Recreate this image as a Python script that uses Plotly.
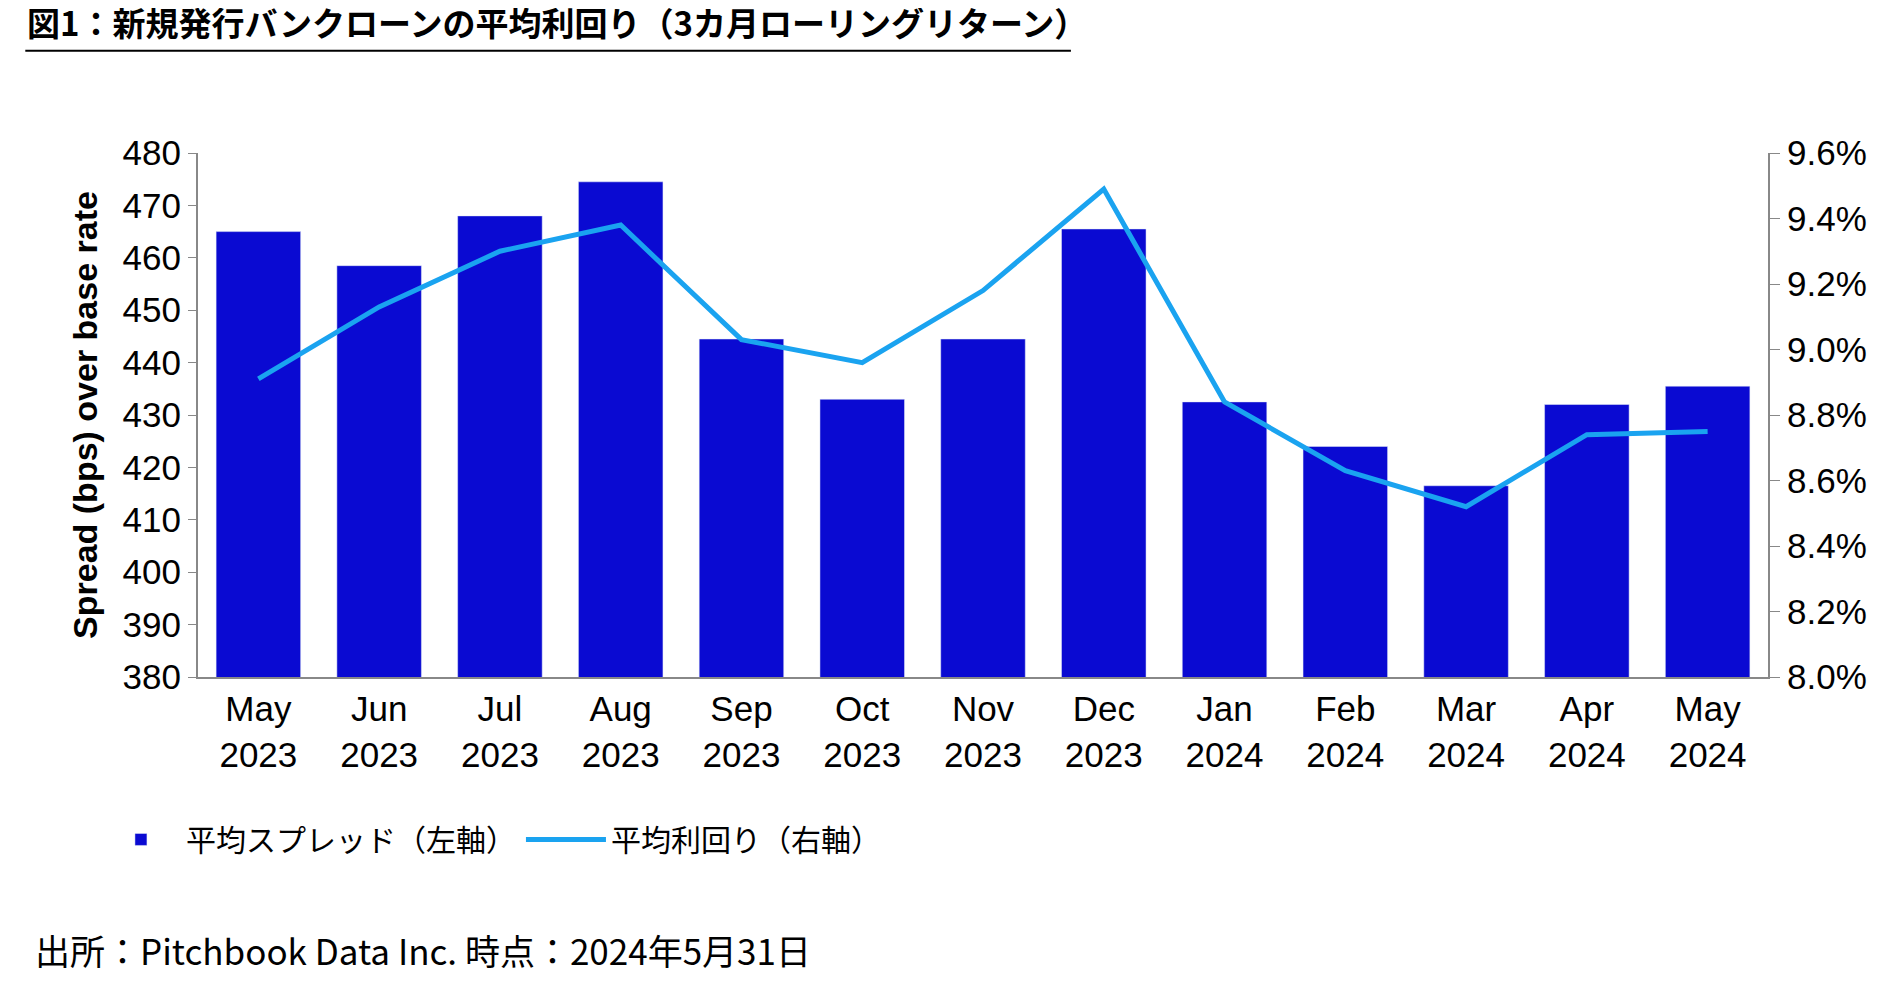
import plotly.graph_objects as go

months = ["May<br>2023","Jun<br>2023","Jul<br>2023","Aug<br>2023","Sep<br>2023","Oct<br>2023","Nov<br>2023",
          "Dec<br>2023","Jan<br>2024","Feb<br>2024","Mar<br>2024","Apr<br>2024","May<br>2024"]
spread = [465, 458.5, 468, 474.5, 444.5, 433, 444.5, 465.5, 432.5, 424, 416.5, 432, 435.5]
yield_pct = [8.91, 9.13, 9.30, 9.38, 9.03, 8.96, 9.18, 9.49, 8.84, 8.63, 8.52, 8.74, 8.75]

fig = go.Figure()
fig.add_trace(go.Bar(x=months, y=spread, name="平均スプレッド（左軸）", marker_color="#0A0AD2", width=0.7))
fig.add_trace(go.Scatter(x=months, y=[v/100 for v in yield_pct], name="平均利回り（右軸）", yaxis="y2",
                         mode="lines", line=dict(color="#1AA3F0", width=5)))

tickfont = dict(family="Liberation Sans, Arial", size=35, color="black")
fig.update_layout(
    width=1900, height=993, autosize=False, plot_bgcolor="white", paper_bgcolor="white",
    margin=dict(l=190, r=140, t=145, b=324, autoexpand=False),
    font=dict(family="Liberation Sans, Noto Sans CJK JP", color="black"),
    xaxis=dict(tickfont=tickfont, showline=True, linecolor="#888", linewidth=2, ticks="",
               tickangle=0, automargin=False),
    yaxis=dict(range=[380, 480], dtick=10, automargin=False,
               tickfont=tickfont, showgrid=False, showline=True, linecolor="#888", linewidth=2,
               ticks="outside", ticklen=8, tickcolor="#888",
               title=dict(text="<b>Spread (bps) over base rate</b>", font=dict(size=34, family="Liberation Sans"), standoff=15)),
    yaxis2=dict(overlaying="y", side="right", range=[0.08, 0.096], dtick=0.002, tickformat=".1%",
                automargin=False, tickfont=tickfont, showgrid=False, showline=True, linecolor="#888", linewidth=2,
                ticks="outside", ticklen=10, tickcolor="#888"),
    legend=dict(orientation="h", x=-0.065, y=-0.31, xanchor="left", yanchor="middle",
                font=dict(size=30, family="Noto Sans CJK JP"), traceorder="normal", itemwidth=80),
    showlegend=True,
)
fig.add_annotation(text="<b>図1：新規発行バンクローンの平均利回り（3カ月ローリングリターン）</b>", xref="paper", yref="paper",
                   x=-0.11, y=1.2, xanchor="left", yanchor="bottom", showarrow=False,
                   font=dict(size=33, family="Noto Sans CJK JP"))
fig.add_shape(type="line", xref="paper", yref="paper", x0=-0.11, x1=0.556, y0=1.195, y1=1.195,
              line=dict(color="black", width=2))
fig.add_annotation(text="出所：Pitchbook Data Inc. 時点：2024年5月31日", xref="paper", yref="paper",
                   x=-0.105, y=-0.52, xanchor="left", yanchor="middle", showarrow=False,
                   font=dict(size=35, family="Noto Sans CJK JP"))
fig.write_html("out.html")
